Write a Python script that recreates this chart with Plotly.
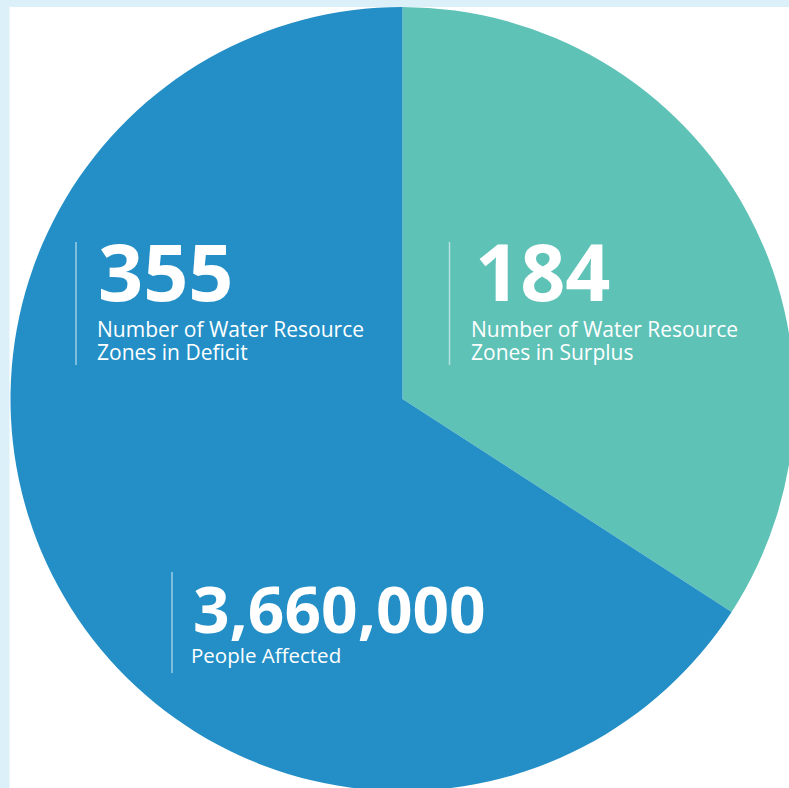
import plotly.graph_objects as go

# ---- data ----
categories = ["Zones in Surplus", "Zones in Deficit"]
values = [184, 355]
colors = ["#5EC2B7", "#238FC6"]
big_numbers = ["355", "184", "3,660,000"]
label_lines = [
    ["Number of Water Resource", "Zones in Deficit"],
    ["Number of Water Resource", "Zones in Surplus"],
    ["People Affected"],
]

# ---- canvas (pixels) ----
W, H = 795, 792
BAND = "#DCF0FA"


def X(px):
    return px / W


def Y(py):
    return 1 - py / H


# pie geometry in pixels
cx, cy, r = 402.5, 399.0, 392.0

fig = go.Figure(
    go.Pie(
        labels=categories,
        values=values,
        marker=dict(colors=colors, line=dict(width=0)),
        sort=False,
        direction="clockwise",
        rotation=0,
        textinfo="none",
        hoverinfo="label+value",
        showlegend=False,
        domain=dict(x=[X(cx - r), X(cx + r)], y=[Y(cy + r), Y(cy - r)]),
    )
)

shapes = [
    dict(type="rect", xref="paper", yref="paper", x0=0, x1=X(9.5), y0=0, y1=1,
         fillcolor=BAND, line=dict(width=0), layer="below"),
    dict(type="rect", xref="paper", yref="paper", x0=0, x1=1, y0=Y(7), y1=1,
         fillcolor=BAND, line=dict(width=0), layer="below"),
]

# block layout in pixels:
# (line x, line y0, line y1, number x, number center y, number size,
#  label x, label first center y, label size, line gap)
blocks = [
    (76, 242, 365, 96, 271, 79, 95, 329, 21, 23.3),
    (449.5, 242, 365, 472.5, 271, 79, 469, 329, 21, 23.3),
    (172, 572, 673, 190.5, 608, 64, 189, 655, 20.5, 23),
]

annotations = []
for (lx, ly0, ly1, nx, ny, nsize, tx, ty, lsize, gap), num, lines in zip(blocks, big_numbers, label_lines):
    shapes.append(dict(type="line", xref="paper", yref="paper", x0=X(lx), x1=X(lx),
                       y0=Y(ly0), y1=Y(ly1), line=dict(color="rgba(255,255,255,0.55)", width=1.5),
                       layer="above"))
    annotations.append(dict(text=num, x=X(nx), y=Y(ny), xref="paper", yref="paper",
                            xanchor="left", yanchor="middle", showarrow=False,
                            font=dict(family="Open Sans", size=nsize, color="white", weight=700)))
    for i, t in enumerate(lines):
        annotations.append(dict(text=t, x=X(tx), y=Y(ty + i * gap), xref="paper", yref="paper",
                                xanchor="left", yanchor="middle", showarrow=False,
                                font=dict(family="Open Sans", size=lsize, color="white")))

fig.update_layout(
    width=W,
    height=H,
    margin=dict(l=0, r=0, t=0, b=0),
    paper_bgcolor="white",
    plot_bgcolor="white",
    shapes=shapes,
    annotations=annotations,
)

fig.write_html(
    "out.html",
    config={"displayModeBar": False},
    post_script="document.body.style.margin='0';document.body.style.overflow='hidden';",
)
